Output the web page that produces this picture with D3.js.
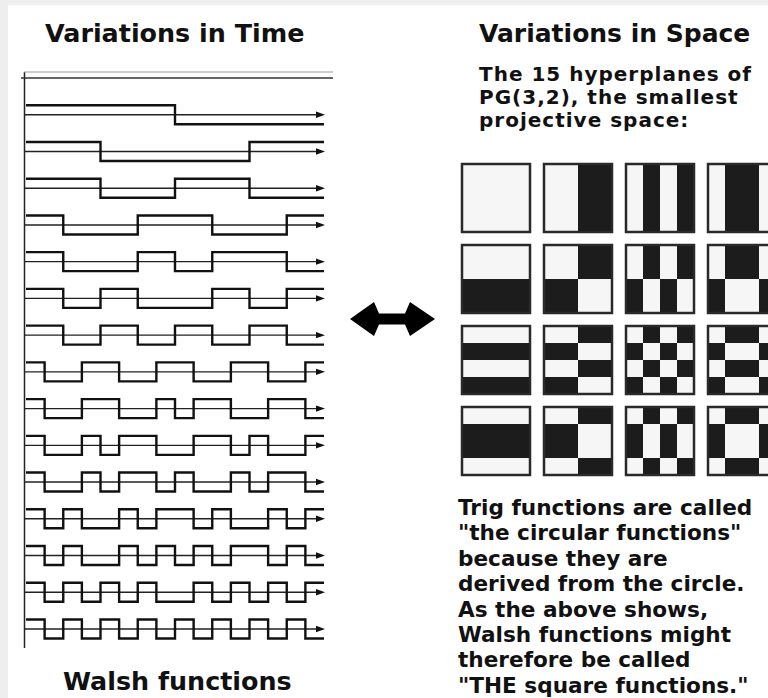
<!DOCTYPE html>
<html>
<head>
<meta charset="utf-8">
<script src="https://cdn.jsdelivr.net/npm/d3@7"></script>
<style>
  body { margin: 0; background: #eeeeee; }
  svg { display: block; }
  text { font-family: "DejaVu Sans", Verdana, sans-serif; font-weight: bold; fill: #111; }
</style>
</head>
<body>
<svg id="chart"></svg>
<script>
// Walsh functions in sequency order, one sign per sixteenth of the interval
const walshRows = [
  '++++++++++++++++',
  '++++++++--------',
  '++++--------++++',
  '++++----++++----',
  '++----++++----++',
  '++----++--++++--',
  '++--++----++--++',
  '++--++--++--++--',
  '+--++--++--++--+',
  '+--++--+-++--++-',
  '+--+-++--++-+--+',
  '+--+-++-+--+-++-',
  '+-+--+-++-+--+-+',
  '+-+--+-+-+-++-+-',
  '+-+-+-+--+-+-+-+',
  '+-+-+-+-+-+-+-+-'
];

// 1D Walsh stripes on 4 cells; each square is column pattern XOR row pattern
const stripePatterns = ['0000', '0011', '0101', '0110'];

const leftTitle = 'Variations in Time';
const leftCaption = 'Walsh functions';
const rightTitle = 'Variations in Space';
const subtitleLines = [
  'The 15 hyperplanes of',
  'PG(3,2), the smallest',
  'projective space:'
];
const noteLines = [
  'Trig functions are called',
  '"the circular functions"',
  'because they are',
  'derived from the circle.',
  'As the above shows,',
  'Walsh functions might',
  'therefore be called',
  '"THE square functions."'
];

class WalshFigure {
  constructor(_config) {
    this.config = {
      parentElement: _config.parentElement,
      containerWidth: _config.containerWidth || 768,
      containerHeight: _config.containerHeight || 698,
      amplitude: 9.5,
      squareSize: 68,
      squarePitch: 82
    };
    this.initVis();
  }

  initVis() {
    let vis = this;

    vis.svg = d3.select(vis.config.parentElement)
        .attr('width', vis.config.containerWidth)
        .attr('height', vis.config.containerHeight);

    // light scan border round a white page
    vis.svg.append('rect')
        .attr('x', 8).attr('y', 5)
        .attr('width', vis.config.containerWidth - 8)
        .attr('height', vis.config.containerHeight - 5)
        .attr('fill', '#fff');

    // time axis: 16 equal steps, rows spaced evenly down the page
    vis.xScale = d3.scaleLinear().domain([0, 16]).range([26, 324]);
    vis.yScale = d3.scaleLinear().domain([0, walshRows.length - 1]).range([78, 629]);

    // square grid
    vis.colScale = d3.scaleLinear().domain([0, 1]).range([462, 462 + vis.config.squarePitch]);
    vis.rowScale = d3.scaleLinear().domain([0, 1]).range([164, 164 + 81]);
    vis.cellScale = d3.scaleLinear().domain([0, 4]).range([0, vis.config.squareSize]);

    vis.renderVis();
  }

  renderVis() {
    let vis = this;
    const amp = vis.config.amplitude;

    const time = vis.svg.append('g').attr('class', 'time');

    // vertical axis
    time.append('line')
        .attr('x1', 24.5).attr('x2', 24.5)
        .attr('y1', vis.yScale(0) - 6).attr('y2', 648)
        .attr('stroke', '#222').attr('stroke-width', 1.5);

    // top row: constant function drawn as a ruler
    time.append('line')
        .attr('x1', 21).attr('x2', 333)
        .attr('y1', vis.yScale(0)).attr('y2', vis.yScale(0))
        .attr('stroke', '#333').attr('stroke-width', 1.5);
    time.append('line')
        .attr('x1', 24).attr('x2', 333)
        .attr('y1', vis.yScale(0) - 6).attr('y2', vis.yScale(0) - 6)
        .attr('stroke', '#999').attr('stroke-width', 1.2);

    const rows = time.selectAll('.row')
        .data(walshRows.slice(1))
        .join('g')
        .attr('class', 'row')
        .attr('transform', (d, i) => `translate(0,${vis.yScale(i + 1)})`);

    // baseline with arrowhead
    rows.append('line')
        .attr('x1', 25).attr('x2', vis.xScale(16) - 6)
        .attr('y1', 0).attr('y2', 0)
        .attr('stroke', '#222').attr('stroke-width', 1.4);
    rows.append('path')
        .attr('d', `M${vis.xScale(16) - 8},-3.2L${vis.xScale(16) + 1},0L${vis.xScale(16) - 8},3.2Z`)
        .attr('fill', '#111');

    const stepLine = d3.line().curve(d3.curveStepAfter);
    rows.append('path')
        .attr('d', d => {
          const pts = d.split('').map((s, k) => [vis.xScale(k), s === '+' ? -amp : amp]);
          pts.push([vis.xScale(16), pts[pts.length - 1][1]]);
          return stepLine(pts);
        })
        .attr('fill', 'none')
        .attr('stroke', '#111')
        .attr('stroke-width', 2.4)
        .attr('stroke-linejoin', 'miter');

    // squares
    const squares = [];
    stripePatterns.forEach((rp, r) => {
      stripePatterns.forEach((cp, c) => squares.push({r, c, rp, cp}));
    });

    const sq = vis.svg.append('g').attr('class', 'space')
        .selectAll('.square')
        .data(squares)
        .join('g')
        .attr('class', 'square')
        .attr('transform', d => `translate(${Math.round(vis.colScale(d.c))},${Math.round(vis.rowScale(d.r))})`);

    sq.append('rect')
        .attr('width', vis.config.squareSize)
        .attr('height', vis.config.squareSize)
        .attr('fill', '#f6f6f6');

    sq.selectAll('.cell')
        .data(d => {
          const cells = [];
          for (let i = 0; i < 4; i++) {
            for (let j = 0; j < 4; j++) {
              if (d.rp[i] !== d.cp[j]) cells.push({i, j});
            }
          }
          return cells;
        })
        .join('rect')
        .attr('class', 'cell')
        .attr('x', d => vis.cellScale(d.j))
        .attr('y', d => vis.cellScale(d.i))
        .attr('width', vis.cellScale(1))
        .attr('height', vis.cellScale(1))
        .attr('shape-rendering', 'crispEdges')
        .attr('fill', '#1c1c1c');

    sq.append('rect')
        .attr('width', vis.config.squareSize)
        .attr('height', vis.config.squareSize)
        .attr('fill', 'none')
        .attr('stroke', '#2a2a2a')
        .attr('stroke-width', 2.5);

    // double arrow between the panels
    vis.svg.append('path')
        .attr('d', 'M350,319L374,302L379,313.5L405,313.5L410,302L435,319L410,336L405,324.5L379,324.5L374,336Z')
        .attr('fill', '#000');

    // texts
    vis.svg.append('text').attr('x', 45).attr('y', 42)
        .style('font-size', '25.4px').text(leftTitle);
    vis.svg.append('text').attr('x', 63).attr('y', 690)
        .style('font-size', '25.4px').text(leftCaption);
    vis.svg.append('text').attr('x', 479).attr('y', 42)
        .style('font-size', '25px').text(rightTitle);

    vis.svg.selectAll('.subtitle')
        .data(subtitleLines)
        .join('text')
        .attr('class', 'subtitle')
        .attr('x', 479)
        .attr('y', (d, i) => 80.5 + i * 23.3)
        .style('font-size', '20px')
        .style('letter-spacing', '1px')
        .text(d => d);

    vis.svg.selectAll('.note')
        .data(noteLines)
        .join('text')
        .attr('class', 'note')
        .attr('x', 458)
        .attr('y', (d, i) => 515 + i * 25.4)
        .style('font-size', '21.6px')
        .text(d => d);
  }
}

new WalshFigure({parentElement: '#chart'});
</script>
</body>
</html>
